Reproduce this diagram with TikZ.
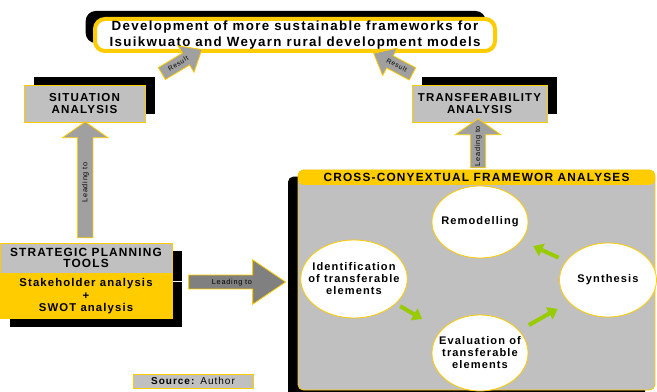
\documentclass[tikz,border=0pt]{standalone}
\usepackage{fontspec}
\setmainfont[LetterSpace=10]{Liberation Sans}
\usetikzlibrary{calc,positioning,shapes.geometric,shapes.arrows,shadows,arrows.meta}
\definecolor{goldyellow}{RGB}{255,204,0}
\definecolor{boxgrey}{RGB}{192,192,192}
\definecolor{arrowgrey}{RGB}{160,160,160}
\definecolor{darkgrey}{RGB}{128,128,128}
\definecolor{leafgreen}{RGB}{153,204,0}
\tikzstyle{every node}+=[inner sep=1pt,align=center,font=\bfseries]
\tikzstyle{labelbox}=[draw=goldyellow,fill=boxgrey,line width=0.6pt]
\tikzstyle{stage}=[ellipse,draw=goldyellow,fill=white,line width=0.6pt,inner xsep=-6pt,inner ysep=0pt,font=\bfseries\fontsize{8.3}{9}\selectfont]
\tikzstyle{blockarrow}=[single arrow,draw=goldyellow,fill=arrowgrey,line width=0.6pt,inner xsep=1pt,inner ysep=3pt,text height=4pt,text depth=1pt,font=\fontsize{5.5}{6}\selectfont]
\tikzstyle{resultarrow}=[blockarrow,single arrow head extend=6.4pt,single arrow tip angle=80,inner ysep=2.4pt,font=\fontsize{5}{5}\selectfont]
\tikzstyle{cyclearrow}=[line width=3pt,leafgreen,-{Triangle[length=7pt,width=10pt]}]
\tikzset{blackshadow/.style 2 args={drop shadow={shadow xshift=#1,shadow yshift=#2,fill=black,opacity=1}}}
\newcommand{\drawcycle}[1]{
	\foreach \a/\b/\s/\e in {#1}{
		\draw[cyclearrow,shorten <=\s,shorten >=\e] (\a) -- (\b);
	}
}

\begin{document}
\begin{tikzpicture}[x=0.75pt,y=-0.75pt]
	\useasboundingbox (0,0) rectangle (657,392);
	\node[draw=goldyellow,fill=white,line width=3pt,rounded corners=7.5pt,minimum width=300pt,minimum height=24pt,blackshadow={-7pt}{6pt},font=\bfseries\fontsize{10}{12}\selectfont] (goal) at (295,35) {Development of more sustainable frameworks for\\Isuikwuato and Weyarn rural development models};
	\node[labelbox,minimum width=90.75pt,minimum height=27.75pt,blackshadow={7.5pt}{6pt},font=\bfseries\fontsize{8.7}{9}\selectfont] (situation) at (84.5,103.5) {SITUATION\\ANALYSIS};
	\node[labelbox,minimum width=101.25pt,minimum height=27.75pt,blackshadow={7.5pt}{6pt},font=\bfseries\fontsize{8.6}{9}\selectfont] (transfer) at (479.5,103.5) {TRANSFERABILITY\\ANALYSIS};
	\node[labelbox,minimum width=129pt,minimum height=22.5pt,blackshadow={7.5pt}{-6pt},font=\bfseries\fontsize{8.9}{8.8}\selectfont] (strategic) at (86,258) {STRATEGIC PLANNING\\TOOLS};
	\node[labelbox,fill=goldyellow,minimum width=129pt,minimum height=33.75pt,below=0pt of strategic,blackshadow={7.5pt}{-6pt},font=\bfseries\fontsize{8.5}{9.4}\selectfont] (tools) {Stakeholder analysis\\+\\SWOT analysis};
	\node[labelbox,fill=boxgrey,font=\fontsize{7.5}{8}\selectfont,minimum width=90pt,minimum height=10.5pt] (source) at (193,381) {\textbf{Source:} Author};

	\node[labelbox,rounded corners=4pt,minimum width=267.75pt,minimum height=165pt,blackshadow={-7.5pt}{-5pt}] (cross) at (476.5,280) {};
	\node[fill=goldyellow,rounded corners=4pt,minimum width=267.75pt,minimum height=11.25pt,anchor=north,font=\bfseries\fontsize{8.9}{9}\selectfont] (crosstitle) at (cross.north) {CROSS-CONYEXTUAL FRAMEWOR ANALYSES};
	\node[stage,minimum width=72pt,minimum height=54pt] (remodel) at (480,222) {Remodelling};
	\node[stage,minimum width=78pt,minimum height=58.5pt] (identify) at (354,279) {Identification\\of transferable\\elements};
	\node[stage,minimum width=72pt,minimum height=57pt] (evaluate) at (480,353) {Evaluation of\\transferable\\elements};
	\node[stage,minimum width=72.75pt,minimum height=55.5pt] (synthesis) at (608,280) {Synthesis};
	\drawcycle{identify/evaluate/3.75pt/16.5pt,evaluate/synthesis/8.25pt/9.75pt,synthesis/remodel/6pt/9.75pt}

	\node[blockarrow,rotate=90,minimum height=87pt,single arrow head extend=11.25pt,single arrow tip angle=110] (leadsituation) at ($(strategic.north)!0.5!(situation.south)$) {Leading to};
	\node[blockarrow,rotate=90,minimum height=33pt,single arrow head extend=11.25pt,single arrow tip angle=110] (leadtransfer) at ($(crosstitle.north)!0.5!(transfer.south)$) {Leading to};
	\node[blockarrow,fill=darkgrey,minimum height=72.75pt,single arrow head extend=11.5pt,single arrow tip angle=68,inner ysep=2.4pt] (leadcross) at (232,282) {Leading to};
	\node[resultarrow,rotate=31,minimum height=35pt] (resultleft) at (178.3,63.7) {Result};
	\node[resultarrow,rotate=-28,shape border rotate=180,minimum height=33pt] (resultright) at (396.7,65.5) {Result};
\end{tikzpicture}
\end{document}
